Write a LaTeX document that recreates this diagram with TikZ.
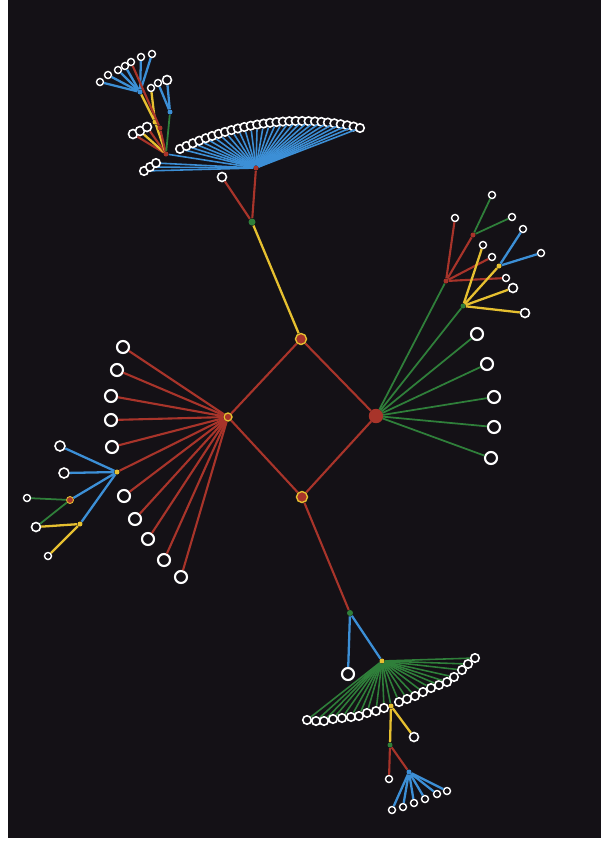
\documentclass[tikz,border=0pt]{standalone}
\definecolor{bgc}{HTML}{141116}
\definecolor{ered}{HTML}{A8342A}
\definecolor{egreen}{HTML}{2F7F3A}
\definecolor{eblue}{HTML}{3C8FD6}
\definecolor{eyel}{HTML}{E6C030}
\begin{document}
\begin{tikzpicture}[x=0.02cm,y=-0.02cm,
 leaf/.style={circle,draw=white,fill=bgc,line width=.9pt,minimum size=.18cm,inner sep=0pt},
 bigleaf/.style={leaf,minimum size=.24cm,line width=1.2pt},
 smleaf/.style={leaf,minimum size=.14cm,line width=.8pt},
 arcleaf/.style={leaf,minimum size=.17cm,line width=.9pt},
 hub/.style={circle,fill=#1,minimum size=.1cm,inner sep=0pt},
 cnode/.style={circle,draw=eyel,fill=ered,line width=.8pt,minimum size=.22cm,inner sep=0pt},
 rl/.style={ered,line width=1.2pt},gl/.style={egreen,line width=1pt},
 bl/.style={eblue,line width=1.3pt},yl/.style={eyel,line width=1.3pt},
 fan/.style={#1,line width=.9pt}]
\fill[white] (0,0) rectangle (601,850);
\fill[bgc] (8,0) rectangle (601,838);
\useasboundingbox (0,0) rectangle (601,850);
% centre square
\node[cnode] (top) at (301,339) {};
\node[cnode,minimum size=.16cm] (lft) at (228,417) {};
\node[cnode,draw=ered,minimum size=.26cm] (rgt) at (376,416) {};
\node[cnode] (bot) at (302,497) {};
\draw[rl] (top) -- (lft) -- (bot) -- (rgt) -- (top);
% top branch
\node[hub=egreen,minimum size=.14cm] (n1) at (252,222) {};
\node[leaf] (n1a) at (222,177) {};
\node[hub=ered] (h1) at (256,168) {};
\draw[yl] (top) -- (n1);
\draw[rl] (n1) -- (n1a);
\draw[rl] (n1) -- (h1);
\foreach \i in {0,...,28}{
 \pgfmathsetmacro\ax{180+180*\i/28}
 \pgfmathsetmacro\ay{121+0.00194*(\ax-300)^2}
 \node[arcleaf] (ta\i) at (\ax,\ay) {};
 \draw[fan=eblue] (h1) -- (ta\i);
}
\foreach \x/\y [count=\i] in {144/171,150/167,156/163}{
 \node[arcleaf] (tl\i) at (\x,\y) {};
 \draw[fan=eblue] (h1) -- (tl\i);
}
\node[hub=ered] (n2) at (166,154) {};
\draw[fan=eblue] (h1) -- (n2);
\node[leaf] (p1) at (133,134) {};
\node[leaf] (p2) at (140,131) {};
\node[leaf] (p3) at (147,127) {};
\draw[rl] (n2) -- (p1);
\draw[yl] (n2) -- (p2);
\draw[rl] (n2) -- (p3);
\node[hub=eyel] (y1) at (155,122) {};
\node[hub=eblue] (hb1) at (140,92) {};
\node[smleaf] (q0) at (151,88) {};
\draw[yl] (n2) -- (y1);
\draw[yl] (y1) -- (hb1);
\draw[yl] (y1) -- (q0);
\node[hub=ered] (r1) at (160,128) {};
\draw[rl] (n2) -- (r1);
\foreach \x/\y [count=\i] in {100/82,108/75,118/70,125/66,131/62,141/57,152/54}{
 \node[smleaf] (hb1\i) at (\x,\y) {};
}
\foreach \i in {1,2,3,4,6,7}{\draw[bl] (hb1) -- (hb1\i);}
\draw[rl] (r1) -- (hb15);
\node[hub=eblue] (hb2) at (170,112) {};
\node[smleaf] (hb2a) at (158,83) {};
\node[leaf] (hb2b) at (167,80) {};
\draw[gl] (n2) -- (hb2);
\draw[bl] (hb2) -- (hb2a);
\draw[bl] (hb2) -- (hb2b);
% left branch
\foreach \x/\y [count=\i] in {123/347,117/370,111/396,111/420,112/447,124/496,135/519,148/539,164/560,181/577}{
 \node[bigleaf] (l\i) at (\x,\y) {};
 \draw[rl] (lft) -- (l\i);
}
\node[hub=eyel] (n6) at (117,472) {};
\draw[rl] (lft) -- (n6);
\node[leaf,minimum size=.2cm] (m1) at (60,446) {};
\node[leaf,minimum size=.2cm] (m2) at (64,473) {};
\node[cnode,minimum size=.14cm,line width=.5pt] (n7) at (70,500) {};
\node[hub=eyel] (n8) at (80,524) {};
\draw[bl] (n6) -- (m1);
\draw[bl] (n6) -- (m2);
\draw[bl] (n6) -- (n7);
\draw[bl] (n6) -- (n8);
\node[smleaf] (k1) at (27,498) {};
\node[leaf] (k2) at (36,527) {};
\node[smleaf] (k3) at (48,556) {};
\draw[gl] (n7) -- (k1);
\draw[gl] (n7) -- (k2);
\draw[yl] (n8) -- (k2);
\draw[yl] (n8) -- (k3);
% right branch
\foreach \x/\y [count=\i] in {477/334,487/364,494/397,494/427,491/458}{
 \node[bigleaf] (g\i) at (\x,\y) {};
 \draw[gl] (rgt) -- (g\i);
}
\node[hub=ered] (n9) at (446,281) {};
\node[hub=egreen] (n10) at (463,306) {};
\draw[gl] (rgt) -- (n9);
\draw[gl] (rgt) -- (n10);
\node[smleaf] (u1) at (455,218) {};
\node[hub=ered] (n11) at (473,235) {};
\node[smleaf] (u2) at (492,257) {};
\node[smleaf] (u3) at (506,278) {};
\draw[rl] (n9) -- (u1);
\draw[rl] (n9) -- (n11);
\draw[rl] (n9) -- (u2);
\draw[rl] (n9) -- (u3);
\node[smleaf] (u4) at (492,195) {};
\node[smleaf] (u5) at (512,217) {};
\draw[gl] (n11) -- (u4);
\draw[gl] (n11) -- (u5);
\node[smleaf] (v1) at (483,245) {};
\node[hub=eyel] (n12) at (499,266) {};
\node[leaf] (v2) at (513,288) {};
\node[leaf] (v3) at (525,313) {};
\draw[yl] (n10) -- (v1);
\draw[yl] (n10) -- (n12);
\draw[yl] (n10) -- (v2);
\draw[yl] (n10) -- (v3);
\node[smleaf] (w1) at (523,229) {};
\node[smleaf] (w2) at (541,253) {};
\draw[bl] (n12) -- (w1);
\draw[bl] (n12) -- (w2);
% bottom branch
\node[hub=egreen,minimum size=.12cm] (n13) at (350,613) {};
\node[bigleaf] (b1) at (348,674) {};
\node[hub=eyel] (h2) at (382,661) {};
\draw[rl] (bot) -- (n13);
\draw[bl] (n13) -- (b1);
\draw[bl] (n13) -- (h2);
\foreach \x/\y [count=\i] in {307/720,316/721,324/721,333/719,342/718,351/717,359/716,367/713,376/711,384/708,399/702,407/699,415/696,423/692,431/688,439/685,447/682,454/677,462/670,468/664,475/658}{
 \node[arcleaf] (ba\i) at (\x,\y) {};
 \draw[fan=egreen] (h2) -- (ba\i);
}
\node[hub=eyel] (n14) at (391,706) {};
\draw[fan=egreen] (h2) -- (n14);
\node[hub=egreen] (n15) at (390,745) {};
\node[leaf] (b2) at (414,737) {};
\draw[yl] (n14) -- (n15);
\draw[yl] (n14) -- (b2);
\node[smleaf] (b3) at (389,779) {};
\node[hub=eblue] (h3) at (409,772) {};
\draw[rl] (n15) -- (b3);
\draw[rl] (n15) -- (h3);
\foreach \x/\y [count=\i] in {392/810,403/807,414/803,425/799,437/794,447/791}{
 \node[smleaf] (c\i) at (\x,\y) {};
 \draw[bl] (h3) -- (c\i);
}
\end{tikzpicture}
\end{document}
